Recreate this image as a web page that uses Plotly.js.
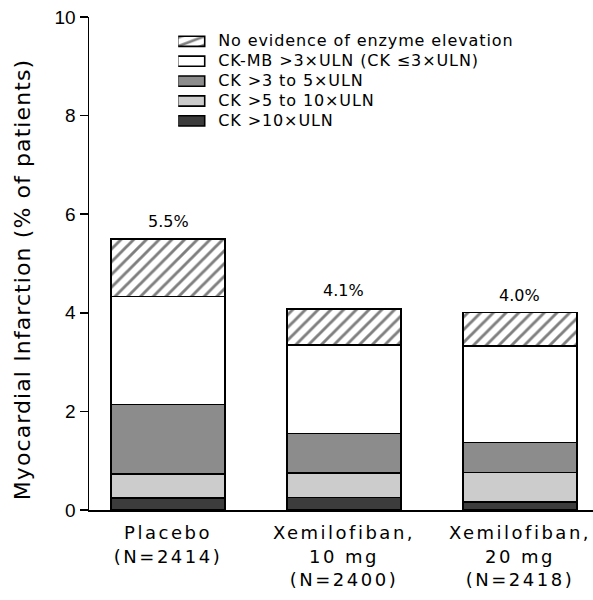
<!DOCTYPE html>
<html>
<head>
<meta charset="utf-8">
<script src="https://cdn.plot.ly/plotly-3.0.1.min.js"></script>
<style>
html,body{margin:0;padding:0;background:#fff;}
.xtick text{letter-spacing:2.5px;}
.legendtext{letter-spacing:0.9px;font-size:16px !important;}
g.annotation[data-index="3"] text{letter-spacing:1.1px;}
.legendpoints path{transform:translate(13px,0) scale(2.25,0.85);vector-effect:non-scaling-stroke;}
</style>
</head>
<body>
<div id="chart" style="width:593px;height:600px;"></div>
<script>
// Data
const categories = ["Placebo<br>(N=2414)", "Xemilofiban,<br>10 mg<br>(N=2400)", "Xemilofiban,<br>20 mg<br>(N=2418)"];
const seriesNames = ["CK >10×ULN", "CK >5 to 10×ULN", "CK >3 to 5×ULN", "CK-MB >3×ULN (CK ≤3×ULN)", "No evidence of enzyme elevation"];
const ckOver10 = [0.24, 0.25, 0.16];
const ck5to10 = [0.49, 0.50, 0.60];
const ck3to5 = [1.41, 0.80, 0.61];
const ckmbOver3 = [2.19, 1.80, 1.96];
const noEvidence = [1.17, 0.73, 0.68];
const totals = [5.5, 4.1, 4.0];
const totalLabels = ["5.5%", "4.1%", "4.0%"];
const yTitle = "Myocardial Infarction (% of patients)";

const seriesValues = [ckOver10, ck5to10, ck3to5, ckmbOver3, noEvidence];
const fills = ["#3c3c3c", "#cccccc", "#8c8c8c", "#ffffff", "#ffffff"];
const DV = "DejaVu Sans, sans-serif";

const traces = seriesValues.map((vals, i) => {
  const marker = {color: fills[i], line: {color: "#000", width: 1.6}};
  if (i === 4) {
    marker.pattern = {shape: "/", fgcolor: "#000", bgcolor: "#fff", size: 9, solidity: 0.32, fillmode: "overlay"};
  }
  return {type: "bar", x: categories, y: vals, name: seriesNames[i], marker: marker, hoverinfo: "skip"};
});

const annotations = categories.map((c, i) => ({
  x: c, y: totals[i], xref: "x", yref: "y", text: totalLabels[i],
  showarrow: false, yanchor: "bottom", yshift: 6,
  font: {family: DV, size: 16, color: "#000"}
}));
annotations.push({
  x: -0.131, y: 0.4686, xref: "paper", yref: "paper", text: yTitle, textangle: -90,
  showarrow: false, xanchor: "center", yanchor: "middle",
  font: {family: DV, size: 22, color: "#000"}
});

const layout = {
  width: 593, height: 600,
  margin: {l: 89, r: 0, t: 17, b: 90},
  paper_bgcolor: "#fff", plot_bgcolor: "#fff",
  barmode: "stack", bargap: 0.35,
  font: {family: "Arial, Liberation Sans, sans-serif", color: "#000"},
  xaxis: {
    range: [-0.449, 2.415], showline: true, linecolor: "#000", linewidth: 1.5,
    ticks: "outside", ticklen: 6, tickcolor: "rgba(0,0,0,0)", showgrid: false, zeroline: false, fixedrange: true,
    tickfont: {family: DV, size: 18}
  },
  yaxis: {
    range: [0, 10], tickvals: [0, 2, 4, 6, 8, 10], showline: true, linecolor: "#000", linewidth: 1.5,
    ticks: "outside", ticklen: 8, tickwidth: 1.5, tickcolor: "#000",
    showgrid: false, zeroline: false, tickfont: {size: 19}
  },
  legend: {
    x: 0.177, y: 0.981, xanchor: "left", yanchor: "top",
    traceorder: "reversed", bgcolor: "rgba(0,0,0,0)",
    font: {family: DV, size: 13}, tracegroupgap: 0, itemclick: false
  },
  annotations: annotations,
  showlegend: true
};

Plotly.newPlot("chart", traces, layout, {staticPlot: true});
</script>
</body>
</html>
